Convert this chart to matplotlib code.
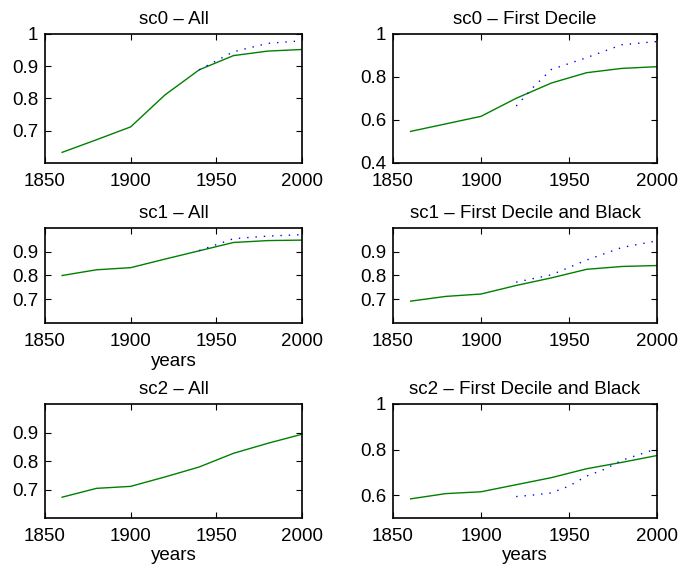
import matplotlib
matplotlib.use("Agg")
import matplotlib.pyplot as plt

plt.rcParams['font.family'] = ['Liberation Sans', 'DejaVu Sans']

years = [1860, 1880, 1900, 1920, 1940, 1960, 1980, 2000]

titles = ["sc0 \u2013 All", "sc0 \u2013 First Decile",
          "sc1 \u2013 All", "sc1 \u2013 First Decile and Black",
          "sc2 \u2013 All", "sc2 \u2013 First Decile and Black"]

green_sc0_all = [0.633, 0.672, 0.712, 0.811, 0.889, 0.933, 0.947, 0.952]
green_sc0_fd = [0.547, 0.582, 0.617, 0.701, 0.772, 0.820, 0.840, 0.848]
green_sc1_all = [0.800, 0.824, 0.833, 0.869, 0.904, 0.939, 0.947, 0.949]
green_sc1_fdb = [0.692, 0.712, 0.722, 0.758, 0.790, 0.826, 0.838, 0.842]
green_sc2_all = [0.673, 0.704, 0.711, 0.744, 0.779, 0.827, 0.862, 0.894]
green_sc2_fdb = [0.584, 0.607, 0.615, 0.646, 0.677, 0.716, 0.744, 0.774]

blue_years_sc0_all = [1940, 1960, 1980, 2000]
blue_sc0_all = [0.889, 0.945, 0.971, 0.979]
blue_years_sc0_fd = [1920, 1930, 1940, 1960, 1980, 2000]
blue_sc0_fd = [0.665, 0.755, 0.835, 0.890, 0.950, 0.965]
blue_years_sc1_all = [1940, 1960, 1980, 2000]
blue_sc1_all = [0.905, 0.955, 0.966, 0.972]
blue_years_sc1_fdb = [1920, 1940, 1960, 1980, 2000]
blue_sc1_fdb = [0.772, 0.803, 0.865, 0.918, 0.946]
blue_years_sc2_fdb = [1920, 1930, 1940, 1950, 1960, 1970, 1980, 2000]
blue_sc2_fdb = [0.594, 0.601, 0.610, 0.640, 0.684, 0.713, 0.753, 0.804]

greens = [green_sc0_all, green_sc0_fd, green_sc1_all, green_sc1_fdb, green_sc2_all, green_sc2_fdb]
blues = [(blue_years_sc0_all, blue_sc0_all), (blue_years_sc0_fd, blue_sc0_fd),
         (blue_years_sc1_all, blue_sc1_all), (blue_years_sc1_fdb, blue_sc1_fdb),
         None, (blue_years_sc2_fdb, blue_sc2_fdb)]

ylims = [(0.6, 1.0), (0.4, 1.0), (0.6, 1.0), (0.6, 1.0), (0.6, 1.0), (0.5, 1.0)]
yticks = [[0.7, 0.8, 0.9, 1.0], [0.4, 0.6, 0.8, 1.0], [0.7, 0.8, 0.9], [0.7, 0.8, 0.9],
          [0.7, 0.8, 0.9], [0.6, 0.8, 1.0]]
ytlabels = [["0.7", "0.8", "0.9", "1"], ["0.4", "0.6", "0.8", "1"], ["0.7", "0.8", "0.9"],
            ["0.7", "0.8", "0.9"], ["0.7", "0.8", "0.9"], ["0.6", "0.8", "1"]]
xticks = [1850, 1900, 1950, 2000]
xlabels_on = [False, False, True, False, True, True]

W, H = 682, 573
# pixel boxes: left, top, right, bottom
boxes = [(45, 34, 302, 163), (393, 34, 657, 163),
         (45, 228, 302, 323), (393, 228, 657, 323),
         (45, 404, 302, 518), (393, 404, 657, 518)]

fig = plt.figure(figsize=(W / 100, H / 100), dpi=100)
fs = 13.5
for i in range(6):
    l, t, r, b = boxes[i]
    ax = fig.add_axes([l / W, 1 - b / H, (r - l) / W, (b - t) / H])
    ax.plot(years, greens[i], color='#008000', lw=1.0)
    if blues[i] is not None:
        ax.plot(blues[i][0], blues[i][1], color='#0000ff', lw=1.0, ls=(0, (1, 5)))
    ax.set_xlim(1850, 2000)
    ax.set_ylim(*ylims[i])
    ax.set_xticks(xticks)
    ax.set_xticklabels([str(x) for x in xticks])
    ax.set_yticks(yticks[i])
    ax.set_yticklabels(ytlabels[i])
    ax.tick_params(direction='in', length=4, width=0.8, top=True, right=True,
                   labelsize=fs)
    ax.tick_params(axis='x', pad=7)
    ax.tick_params(axis='y', pad=5)
    for s in ax.spines.values():
        s.set_linewidth(1.2)
    ax.set_title(titles[i], fontsize=fs, pad=7)
    if xlabels_on[i]:
        ax.set_xlabel("years", fontsize=fs, labelpad=2)

fig.savefig("out.png", dpi=100)
